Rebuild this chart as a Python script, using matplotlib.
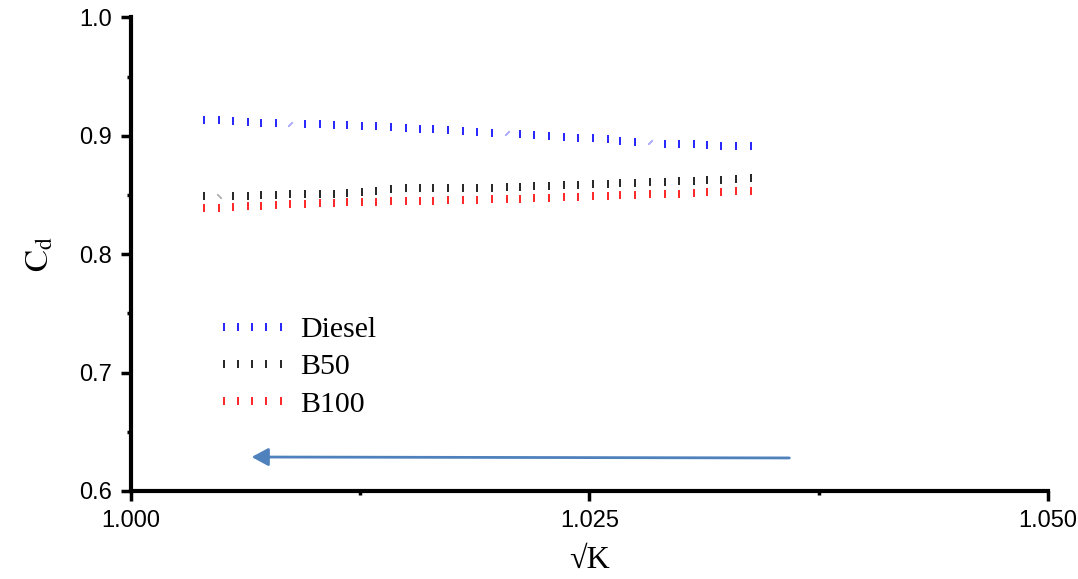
import matplotlib
matplotlib.use("Agg")
import matplotlib.pyplot as plt
from matplotlib.lines import Line2D
from matplotlib.ticker import MultipleLocator

sqrt_k = [1.0040, 1.0048, 1.0056, 1.0064, 1.0071, 1.0079, 1.0087, 1.0095, 1.0103, 1.0111,
          1.0118, 1.0126, 1.0134, 1.0142, 1.0150, 1.0158, 1.0165, 1.0173, 1.0181, 1.0189,
          1.0197, 1.0205, 1.0212, 1.0220, 1.0228, 1.0236, 1.0244, 1.0252, 1.0260, 1.0267,
          1.0275, 1.0283, 1.0291, 1.0299, 1.0307, 1.0314, 1.0322, 1.0330, 1.0338]

cd_diesel = [0.9130, 0.9130, 0.9122, 0.9113, 0.9105, 0.9105, 0.9102, 0.9096, 0.9096, 0.9088,
             0.9088, 0.9080, 0.9080, 0.9071, 0.9063, 0.9054, 0.9054, 0.9046, 0.9037, 0.9029,
             0.9020, 0.9020, 0.9012, 0.9004, 0.8995, 0.8987, 0.8978, 0.8978, 0.8970, 0.8953,
             0.8944, 0.8944, 0.8928, 0.8928, 0.8928, 0.8919, 0.8911, 0.8911, 0.8911]

cd_b50 = [0.8488, 0.8488, 0.8488, 0.8488, 0.8497, 0.8497, 0.8505, 0.8505, 0.8505, 0.8505,
          0.8514, 0.8522, 0.8530, 0.8547, 0.8556, 0.8556, 0.8556, 0.8556, 0.8556, 0.8556,
          0.8556, 0.8564, 0.8564, 0.8573, 0.8573, 0.8581, 0.8581, 0.8590, 0.8590, 0.8598,
          0.8598, 0.8606, 0.8606, 0.8615, 0.8615, 0.8623, 0.8623, 0.8632, 0.8640]

cd_b100 = [0.8387, 0.8387, 0.8395, 0.8404, 0.8404, 0.8412, 0.8421, 0.8421, 0.8429, 0.8429,
           0.8438, 0.8438, 0.8438, 0.8446, 0.8446, 0.8446, 0.8446, 0.8454, 0.8454, 0.8454,
           0.8463, 0.8463, 0.8463, 0.8471, 0.8471, 0.8480, 0.8480, 0.8488, 0.8488, 0.8497,
           0.8497, 0.8505, 0.8505, 0.8511, 0.8514, 0.8522, 0.8522, 0.8530, 0.8530]

series = [("Diesel", cd_diesel, "#0000ff", "#b0b0ff", [6, 21, 31], -45),
          ("B50", cd_b50, "black", "#b8b8b8", [1], 45),
          ("B100", cd_b100, "#ff0000", "#ffb0b0", [], 0)]

# arrow pointing towards decreasing sqrt(K)
arrow_tail = (1.0359, 0.6279)
arrow_head = (1.0066, 0.6287)

plt.rcParams["mathtext.fontset"] = "stix"

fig = plt.figure(figsize=(10.78, 5.79), dpi=100)
ax = fig.add_axes([0.1211, 0.1520, 0.8511, 0.8181])

handles = []
for name, ys, col, faint, odd, ang in series:
    xs_n = [x for i, x in enumerate(sqrt_k) if i not in odd]
    ys_n = [y for i, y in enumerate(ys) if i not in odd]
    ax.plot(xs_n, ys_n, linestyle="none", marker="|", markersize=5.5,
            markeredgewidth=1.2, color=col)
    if odd:
        ax.plot([sqrt_k[i] for i in odd], [ys[i] for i in odd], linestyle="none",
                marker=(2, 2, ang), markersize=4.5, markeredgewidth=1.0, color=faint)
    handles.append(Line2D([], [], linestyle="none", marker="|", markersize=5.5,
                          markeredgewidth=1.2, color=col, label=name))

ax.annotate("", xy=arrow_head, xytext=arrow_tail,
            arrowprops=dict(arrowstyle="-|>,head_length=0.5,head_width=0.27",
                            mutation_scale=20, lw=2.0, color="#4f81bd",
                            shrinkA=0, shrinkB=0))

ax.set_xlim(1.0, 1.05)
ax.set_ylim(0.6, 1.0)
ax.set_xticks([1.000, 1.025, 1.050])
ax.set_xticklabels(["1.000", "1.025", "1.050"])
ax.set_yticks([0.6, 0.7, 0.8, 0.9, 1.0])
ax.set_yticklabels(["0.6", "0.7", "0.8", "0.9", "1.0"])
ax.xaxis.set_minor_locator(MultipleLocator(0.0125))
ax.yaxis.set_minor_locator(MultipleLocator(0.05))

for s in ["top", "right"]:
    ax.spines[s].set_visible(False)
for s in ["left", "bottom"]:
    ax.spines[s].set_linewidth(3)

ax.tick_params(which="major", direction="out", length=7.5, width=2.5, pad=6,
               labelsize=17)
ax.tick_params(which="minor", direction="out", length=3.2, width=2.5)
for lab in ax.get_xticklabels() + ax.get_yticklabels():
    lab.set_fontfamily("Liberation Sans")

ax.set_ylabel(r"$\mathrm{C_d}$", fontsize=24, labelpad=17)
ax.set_xlabel("\u221aK", fontsize=23, fontfamily="Liberation Serif", labelpad=10)

ax.legend(handles=handles, loc="upper left", bbox_to_anchor=(0.092, 0.369),
          frameon=False, numpoints=5, handlelength=2.5, handletextpad=0.35,
          labelspacing=0.35, borderaxespad=0, borderpad=0,
          prop={"family": "Liberation Serif", "size": 21.5})

fig.savefig("out.png", dpi=100)
